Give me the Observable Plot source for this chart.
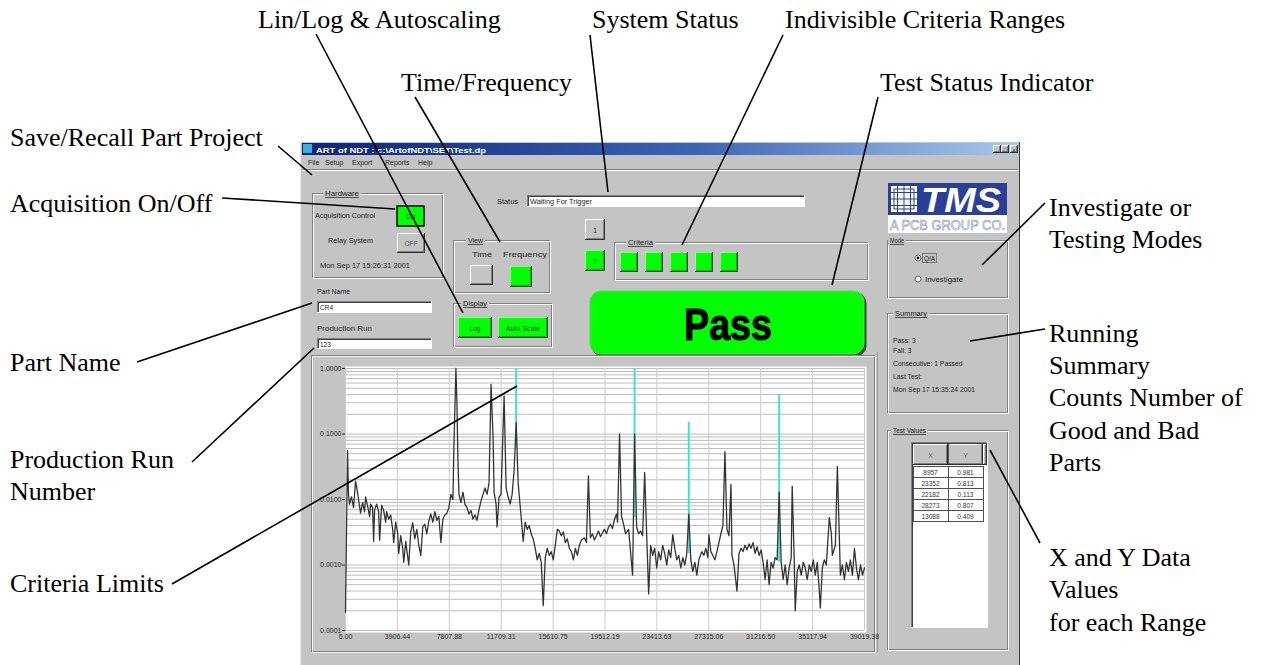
<!DOCTYPE html>
<html>
<head>
<meta charset="utf-8">
<script src="https://cdn.jsdelivr.net/npm/d3@7"></script>
<script src="https://cdn.jsdelivr.net/npm/@observablehq/plot@0.6"></script>
<style>
  html, body { margin: 0; padding: 0; background: #ffffff; }
  #root { position: relative; width: 1267px; height: 665px; overflow: hidden; background: #ffffff; }
  #chrome, #notes { position: absolute; left: 0; top: 0; }
  #chart { position: absolute; left: 313px; top: 357px; width: 560px; height: 293px; }
  #chart svg { display: block; }
</style>
</head>
<body>
<div id="root">
  <svg id="chrome" width="1267" height="665"></svg>
  <div id="chart"></div>
  <svg id="notes" width="1267" height="665"></svg>
</div>
<script>
// ---------------- chart data ----------------
const freqHz = [5,156,231,307,458,609,760,835,986,1137,
1288,1439,1514,1665,1816,1892,2042,2118,2193,2344,
2495,2571,2722,2872,3023,3099,3250,3401,3552,3627,
3778,3929,4004,4155,4306,4382,4533,4684,4759,4910,
5061,5212,5363,5514,5665,5815,5966,6117,6268,6419,
6570,6721,6872,7023,7174,7325,7476,7626,7777,7928,
8079,8155,8306,8381,8457,8532,8683,8834,8985,9136,
9287,9438,9588,9739,9890,10041,10192,10343,10494,10645,
10796,10947,11098,11173,11324,11399,11550,11701,11777,11928,
12079,12230,12380,12531,12682,12833,12984,13211,13361,13512,
13663,13814,13965,14116,14267,14418,14569,14720,14871,15022,
15172,15323,15474,15625,15776,15927,16078,16229,16380,16531,
16682,16833,16984,17134,17285,17436,17587,17738,17964,18115,
18266,18417,18568,18719,18870,19021,19172,19323,19474,19625,
19776,19926,20077,20228,20379,20455,20606,20757,20907,21058,
21285,21587,21737,21888,22039,22190,22341,22492,22643,22794,
22945,23096,23247,23398,23549,23699,23850,24001,24152,24303,
24454,24605,24756,24907,25058,25209,25360,25510,25661,25812,
25963,26114,26265,26416,26567,26793,26944,27095,27246,27322,
27472,27623,27774,27925,28076,28227,28378,28529,28680,28831,
28982,29057,29208,29434,29585,29736,29887,30038,30189,30340,
30491,30642,30793,30944,31095,31245,31396,31547,31698,31849,
32000,32151,32302,32453,32604,32755,32906,33056,33207,33358,
33509,33585,33736,33811,33962,34113,34264,34415,34566,34717,
34868,35018,35169,35320,35471,35622,35698,35849,35999,36150,
36377,36528,36603,36829,36980,37131,37207,37358,37509,37660,
37810,37961,38112,38263,38414,38565,38716,38867,39018];

const amplitude = [0.00019,0.056,0.012,0.0085,0.011,0.0075,0.019,0.016,0.010,0.0062,
0.009,0.0065,0.011,0.008,0.0055,0.0085,0.0075,0.0023,0.007,0.0085,
0.0065,0.0024,0.0082,0.0068,0.0045,0.0065,0.005,0.0058,0.0035,0.0022,
0.0045,0.003,0.0015,0.0028,0.0018,0.0011,0.0023,0.0013,0.001,0.0032,
0.0044,0.0025,0.0035,0.002,0.0014,0.0038,0.0042,0.003,0.0047,0.006,
0.0045,0.0065,0.0048,0.0055,0.0022,0.005,0.0058,0.0062,0.0075,0.012,
0.01,0.065,1.0,0.3,0.04,0.012,0.009,0.013,0.0085,0.0075,
0.006,0.0068,0.005,0.0058,0.0048,0.007,0.0095,0.012,0.015,0.012,
0.018,0.57,0.09,0.013,0.0085,0.0038,0.011,0.012,0.04,0.38,
0.015,0.011,0.0085,0.012,0.028,0.15,0.018,0.0053,0.0023,0.0045,
0.0035,0.004,0.003,0.0025,0.0018,0.0012,0.0015,0.0011,0.00024,0.0013,
0.0018,0.0014,0.0016,0.0012,0.002,0.0035,0.0033,0.0028,0.0032,0.0022,
0.0025,0.0018,0.0016,0.0012,0.0018,0.0014,0.002,0.0024,0.0026,0.0022,
0.023,0.0026,0.003,0.0024,0.0028,0.0033,0.0027,0.0031,0.0035,0.003,
0.0038,0.0042,0.0036,0.005,0.006,0.0045,0.1,0.0055,0.0042,0.003,
0.0035,0.0007,0.1,0.0038,0.003,0.0033,0.0028,0.026,0.003,0.00036,
0.002,0.0014,0.0018,0.0009,0.0016,0.0012,0.002,0.0015,0.001,0.0017,
0.0013,0.0029,0.0018,0.0012,0.0014,0.0009,0.0013,0.001,0.0015,0.006,
0.0012,0.0008,0.0011,0.0007,0.0012,0.0016,0.0014,0.0018,0.0013,0.0029,
0.0016,0.0014,0.0012,0.0016,0.0022,0.003,0.004,0.054,0.0035,0.0028,
0.017,0.0014,0.001,0.0004,0.0015,0.0018,0.0016,0.002,0.0017,0.0021,
0.0018,0.0022,0.0015,0.0019,0.0014,0.0017,0.0011,0.0006,0.0012,0.0005,
0.0011,0.0009,0.0013,0.0012,0.013,0.0011,0.0006,0.001,0.0005,0.0009,
0.0013,0.016,0.0012,0.0002,0.0008,0.001,0.0007,0.0011,0.0009,0.0006,
0.001,0.0008,0.0012,0.0007,0.0011,0.0004,0.00022,0.0009,0.0012,0.001,
0.0053,0.003,0.0014,0.002,0.032,0.0025,0.0007,0.001,0.0006,0.0011,
0.0008,0.0012,0.0007,0.0018,0.0009,0.0006,0.001,0.0007,0.0009];

// criteria limit ranges (cyan)
const limitFreq = [12833, 21737, 25812, 32604];
const limitLow  = [0.06, 0.0053, 0.0015, 0.0011];
const limitHigh = [1.0, 1.0, 0.15, 0.4];

// axis ticks
const xTickValues = [5, 3906.44, 7807.88, 11709.31, 15610.75, 19512.19, 23413.63, 27315.06, 31216.50, 35117.94, 39019.38];
const yTickValues = [0.0001, 0.001, 0.01, 0.1, 1];

// panel texts
const testX = ["8957", "23352", "22182", "28273", "13088"];
const testY = ["0.981", "0.813", "0.113", "0.807", "0.409"];
const summaryLines = ["Pass:  3", "Fail: 3", "Consecutive:  1 Passed", "Last Test:", "Mon Sep 17 15:35:24 2001"];
const menuItems = ["File", "Setup", "Export", "Reports", "Help"];

// ---------------- chart ----------------
const spectrum = freqHz.map((f, i) => ({f, a: amplitude[i]}));
const limits = limitFreq.map((f, i) => ({f, lo: limitLow[i], hi: limitHigh[i]}));

const chart = Plot.plot({
  width: 560,
  height: 293,
  marginLeft: 32,
  marginRight: 9,
  marginTop: 11,
  marginBottom: 20,
  style: {background: "#c4c4c4", fontFamily: "'Liberation Sans', Arial, sans-serif", fontSize: "7px", color: "#2a2a2a", overflow: "visible"},
  x: {domain: [5, 39019.38], label: null},
  y: {type: "log", domain: [0.0001, 1], label: null},
  marks: [
    Plot.frame({fill: "white", stroke: "none", insetTop: -2, insetBottom: -2, insetRight: -2}),
    Plot.gridY({ticks: 10, stroke: "#bdbdbd", strokeOpacity: 1}),
    Plot.gridX({ticks: xTickValues, stroke: "#cccccc", strokeOpacity: 1}),
    Plot.ruleX(limits, {x: "f", y1: "lo", y2: "hi", stroke: "#3fe3cf", strokeWidth: 2}),
    Plot.line(spectrum, {x: "f", y: "a", stroke: "#333333", strokeWidth: 1.3}),
    Plot.axisX({ticks: xTickValues, tickFormat: d => d.toFixed(2), tickSize: 0, tickPadding: 4, label: null}),
    Plot.axisY({ticks: yTickValues, tickFormat: d => d.toFixed(4), tickSize: 3, tickPadding: 1, label: null})
  ]
});
document.getElementById("chart").appendChild(chart);

// ---------------- window chrome ----------------
const UI = "'Liberation Sans', Arial, sans-serif";
const BG = "#c4c4c4";
const G = "#00ff00";
const parts = [];
const esc = t => String(t).replace(/&/g, "&amp;").replace(/</g, "&lt;");
function rect(x, y, w, h, fill, stroke, extra) {
  parts.push(`<rect x="${x}" y="${y}" width="${w}" height="${h}" fill="${fill || 'none'}" stroke="${stroke || 'none'}" ${extra || ''}/>`);
}
function line(x1, y1, x2, y2, c, w) {
  parts.push(`<line x1="${x1}" y1="${y1}" x2="${x2}" y2="${y2}" stroke="${c}" stroke-width="${w || 1}"/>`);
}
function text(x, y, t, o = {}) {
  parts.push(`<text x="${x}" y="${y}" font-family="${o.font || UI}" font-size="${o.size || 7}" fill="${o.fill || '#1e1e1e'}" text-anchor="${o.anchor || 'start'}" font-weight="${o.weight || 'normal'}" ${o.italic ? 'font-style="italic"' : ''} ${o.len ? `textLength="${o.len}" lengthAdjust="spacingAndGlyphs"` : ''} ${o.extra || ''}>${esc(t)}</text>`);
}
function raised(x, y, w, h, fill, lo) {
  rect(x, y, w, h, fill);
  line(x + .5, y + .5, x + w - .5, y + .5, "#ffffff"); line(x + .5, y + .5, x + .5, y + h - .5, "#ffffff");
  line(x, y + h - .5, x + w, y + h - .5, lo || "#303030"); line(x + w - .5, y, x + w - .5, y + h, lo || "#303030");
  line(x + 1, y + h - 1.5, x + w - 1, y + h - 1.5, "#808080"); line(x + w - 1.5, y + 1, x + w - 1.5, y + h - 1, "#808080");
}
function greenBtn(x, y, w, h) {
  rect(x, y, w, h, G);
  line(x, y + .5, x + w, y + .5, "#8aff8a"); line(x + .5, y, x + .5, y + h, "#8aff8a");
  line(x, y + h - .5, x + w, y + h - .5, "#1f5a1f"); line(x + w - .5, y, x + w - .5, y + h, "#1f5a1f");
  line(x + 1, y + h - 1.5, x + w - 1, y + h - 1.5, "#2f9a2f"); line(x + w - 1.5, y + 1, x + w - 1.5, y + h - 1, "#2f9a2f");
}
function sunken(x, y, w, h, fill) {
  rect(x, y, w, h, fill);
  line(x, y + .5, x + w, y + .5, "#808080"); line(x + .5, y, x + .5, y + h, "#808080");
  line(x + 1, y + 1.5, x + w - 1, y + 1.5, "#404040"); line(x + 1.5, y + 1, x + 1.5, y + h - 1, "#404040");
  line(x, y + h - .5, x + w, y + h - .5, "#ffffff"); line(x + w - .5, y, x + w - .5, y + h, "#ffffff");
}
function group(x, y, w, h, label, lx, lw) {
  rect(x + .5, y + .5, w - 1, h - 1, "none", "#808080");
  rect(x + 1.5, y + 1.5, w - 1, h - 1, "none", "#ffffff");
  rect(lx - 2, y - 4, lw + 4, 9, BG);
  text(lx, y + 3, label, {len: lw, extra: 'text-decoration="underline"'});
}

parts.push(`<defs><linearGradient id="tb" x1="0" x2="1"><stop offset="0" stop-color="#0a2478"/><stop offset="0.55" stop-color="#3c64b4"/><stop offset="1" stop-color="#a9c9ee"/></linearGradient></defs>`);
rect(300, 142, 720, 523, BG);
line(300.5, 142, 300.5, 665, "#e8e8e8");
line(1019.5, 142, 1019.5, 665, "#404040");
rect(302, 143, 716, 12, "url(#tb)");
rect(303, 144, 9, 9, "#35b3d8");
text(316, 152.5, "ART of NDT : c:\\ArtofNDT\\SET\\Test.dp", {fill: "#ffffff", size: 7.5, weight: "bold", len: 170});
raised(993, 145, 8, 8, BG); raised(1001, 145, 8, 8, BG); raised(1010, 145, 8, 8, BG);
text(997, 152, "_", {size: 6, anchor: "middle"}); text(1005, 152, "□", {size: 6, anchor: "middle"}); text(1014, 152, "x", {size: 6, anchor: "middle"});
[308, 325, 352, 385, 418].forEach((x, i) => text(x, 165, menuItems[i], {size: 7}));
line(302, 169.5, 1018, 169.5, "#808080"); line(302, 170.5, 1018, 170.5, "#ffffff");

// Hardware
group(312, 193, 131, 85, "Hardware", 325, 34);
text(315, 218, "Acquisition Control", {len: 60});
rect(397, 206, 27, 20, G, "#0a0a0a", 'stroke-width="1.5"');
text(410.5, 219, "ON", {anchor: "middle", size: 6.5, fill: "#226622"});
text(328, 243, "Relay System", {len: 45});
raised(397, 233, 28, 20, BG);
text(411, 246, "OFF", {anchor: "middle", size: 6.5, fill: "#555"});
text(320, 268, "Mon Sep 17 15:26:31 2001", {len: 90});
text(317, 294, "Part Name", {len: 33});
sunken(317, 301, 115, 12, "#ffffff");
text(320, 310, "CR4", {size: 6.5});
text(317, 331, "Production Run", {len: 55});
sunken(317, 338, 115, 11, "#ffffff");
text(320, 346.5, "123", {size: 6.5});

// Status
text(497, 204, "Status", {len: 21});
sunken(527, 195, 278, 12, "#ffffff");
text(530, 204, "Waiting For Trigger", {len: 62});
raised(585, 219, 20, 21, BG);
text(595, 233, "1", {anchor: "middle", size: 6.5});
greenBtn(585, 250, 20, 21);
text(595, 264, "2", {anchor: "middle", size: 6.5, fill: "#226622"});

// View
group(453, 240, 97, 53, "View", 468, 15);
text(472, 257, "Time", {len: 20});
text(503, 257, "Frequency", {len: 44});
raised(470, 265, 23, 20, BG);
greenBtn(510, 266, 22, 21);

// Display
group(453, 303, 99, 44, "Display", 463, 24);
greenBtn(458, 317, 34, 21);
text(475, 331, "Log", {anchor: "middle", size: 6.5, fill: "#1b4d1b"});
greenBtn(498, 317, 50, 21);
text(523, 331, "Auto Scale", {anchor: "middle", size: 6.5, fill: "#1b4d1b", len: 34});

// Criteria
group(614, 242, 254, 38, "Criteria", 628, 25);
[620, 645, 670, 695, 720].forEach(x => greenBtn(x, 252, 18, 20));

// Pass indicator
parts.push(`<rect x="591.5" y="292.5" width="275" height="64" rx="11" fill="#1d5e1d"/>`);
parts.push(`<rect x="590" y="291" width="274" height="63" rx="11" fill="${G}" stroke="#5fd65f" stroke-width="1"/>`);
text(728, 340, "Pass", {size: 44, weight: "bold", anchor: "middle", len: 88, fill: "#000000", extra: 'stroke="#000" stroke-width="1"'});

// TMS logo
rect(888, 183, 119, 32, "#2b3f99");
rect(891, 186, 26, 26, "#ffffff");
[897.5, 904, 910.5].forEach(x => line(x, 186, x, 212, "#2b3f99"));
[192.5, 199, 205.5].forEach(y => line(891, y, 917, y, "#2b3f99"));
rect(894, 189, 20, 20, "none", "#2b3f99");
text(921, 212, "TMS", {size: 35, weight: "bold", italic: true, fill: "#ffffff", len: 80});
rect(888, 215, 119, 18, "#ffffff");
text(890, 230, "A PCB GROUP CO.", {size: 14, fill: "#f4f6fa", len: 115, extra: 'stroke="#8c97b4" stroke-width="0.6"'});

// Mode
group(887, 240, 121, 58, "Mode", 890, 14);
parts.push(`<circle cx="918" cy="258" r="3" fill="#ffffff" stroke="#606060"/><circle cx="918" cy="258" r="1.4" fill="#000"/>`);
rect(922.5, 253.5, 14, 9, "none", "#303030", 'stroke-dasharray="1,1"');
text(924, 261, "Q/A", {size: 6.5});
parts.push(`<circle cx="918" cy="279" r="3" fill="#ffffff" stroke="#606060"/>`);
text(925, 282, "Investigate", {len: 38});

// Summary
group(887, 313, 121, 100, "Summary", 895, 32);
[343, 353, 366, 379, 392].forEach((y, i) => text(893, y, summaryLines[i], {size: 6.8}));

// Test values
group(887, 430, 121, 220, "Test Values", 893, 33);
sunken(911, 442, 77, 186, "#ffffff");
raised(913, 444, 35, 21, BG); raised(948, 444, 35, 21, BG); raised(983, 444, 4, 21, BG);
line(948, 444, 948, 465, "#202020", 1.5);
text(930.5, 458, "X", {anchor: "middle", fill: "#666"});
text(965.5, 458, "Y", {anchor: "middle", fill: "#666"});
testX.forEach((v, i) => {
  const y = 466 + 11 * i;
  rect(913.5, y + .5, 35, 11, "#ffffff", "#505050");
  rect(948.5, y + .5, 35, 11, "#ffffff", "#505050");
  text(930.5, y + 8.5, v, {anchor: "middle", size: 6.5, fill: "#333"});
  text(965.5, y + 8.5, testY[i], {anchor: "middle", size: 6.5, fill: "#333"});
});

// chart frame
rect(311.5, 355.5, 563, 296, "none", "#808080");
rect(312.5, 356.5, 563, 296, "none", "#f4f4f4");
line(877.5, 352, 877.5, 652, "#9a9a9a");

document.getElementById("chrome").innerHTML = parts.join("");

// ---------------- annotations ----------------
const notes = [];
const SERIF = "'Liberation Serif', 'Times New Roman', serif";
const lines = [
  [316, 34, 463, 313], [590, 35, 608, 192], [783, 35, 682, 245], [415, 97, 500, 242],
  [878, 97, 832, 285], [278, 146, 312, 175], [222, 198, 395, 209], [1045, 203, 982, 265],
  [1045, 329, 970, 341], [990, 450, 1040, 543], [137, 362, 312, 303], [192, 462, 314, 348],
  [172, 584, 517, 386]
];
lines.forEach(([a, b, c, d]) => notes.push(`<line x1="${a}" y1="${b}" x2="${c}" y2="${d}" stroke="#000" stroke-width="1.6"/>`));
const labels = [
  [258, 28, "Lin/Log & Autoscaling"], [592, 28, "System Status"], [785, 28, "Indivisible Criteria Ranges"],
  [401, 91, "Time/Frequency"], [880, 91, "Test Status Indicator"], [10, 146, "Save/Recall Part Project"],
  [10, 212, "Acquisition On/Off"], [1049, 216, "Investigate or"], [1049, 248, "Testing Modes"],
  [1049, 342, "Running"], [1049, 374, "Summary"], [1049, 406, "Counts Number of"], [1049, 439, "Good and Bad"],
  [1049, 471, "Parts"], [10, 371, "Part Name"], [10, 468, "Production Run"], [10, 500, "Number"],
  [10, 592, "Criteria Limits"], [1049, 566, "X and Y Data"], [1049, 598, "Values"], [1049, 631, "for each Range"]
];
labels.forEach(([x, y, t]) => notes.push(`<text x="${x}" y="${y}" font-family="${SERIF}" font-size="26" fill="#000">${esc(t)}</text>`));
document.getElementById("notes").innerHTML = notes.join("");
</script>
</body>
</html>
